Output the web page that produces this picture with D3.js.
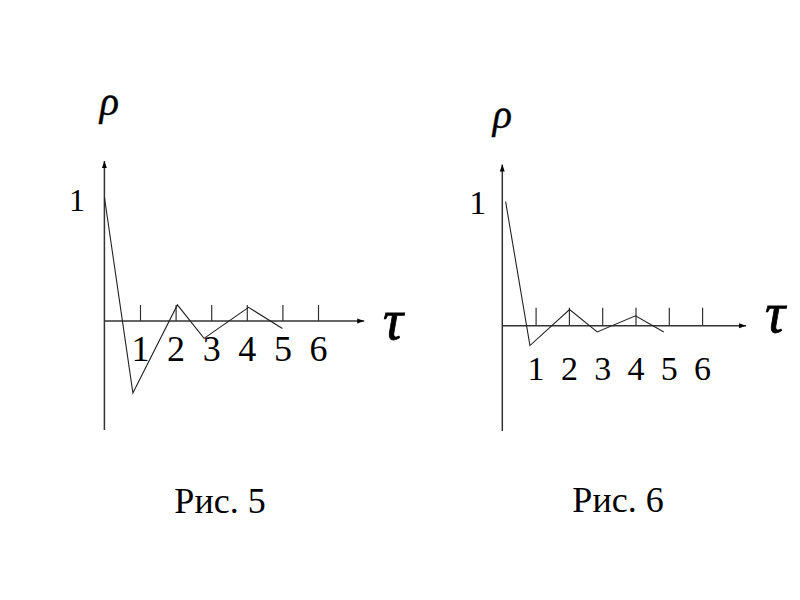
<!DOCTYPE html>
<html>
<head>
<meta charset="utf-8">
<script src="https://cdn.jsdelivr.net/npm/d3@7"></script>
<style>
  body { margin: 0; background: #fff; }
  svg { display: block; }
  text { font-family: "Liberation Serif", "Times New Roman", serif; fill: #000; }
</style>
</head>
<body>
<div id="chart"></div>
<script>
// lag values (tau) and autocorrelation (rho)
const tickLabels = [1, 2, 3, 4, 5, 6];

const tau5 = [0, 0.8, 2.05, 2.8, 4.05, 5];
const rho5 = [1, -0.58, 0.13, -0.14, 0.11, -0.06];

const tau6 = [0.1, 0.83, 2.02, 2.85, 4.0, 4.85];
const rho6 = [1, -0.16, 0.13, -0.05, 0.08, -0.05];

const captions = ['Рис. 5', 'Рис. 6'];

const width = 800, height = 600;

const svg = d3.select('#chart').append('svg')
  .attr('width', width)
  .attr('height', height);

svg.append('defs').append('marker')
  .attr('id', 'arrow')
  .attr('viewBox', '0 0 10 10')
  .attr('refX', 10)
  .attr('refY', 5)
  .attr('markerWidth', 7)
  .attr('markerHeight', 7)
  .attr('markerUnits', 'userSpaceOnUse')
  .attr('orient', 'auto')
  .append('path')
  .attr('d', 'M0,1.5 L10,5 L0,8.5 Z')
  .attr('fill', '#000');

const panels = [
  {
    tau: tau5, rho: rho5, caption: captions[0],
    x0: 104.4, unitX: 35.6, y0: 321, unitY: 124,
    xMax: 7.3, yMin: -0.88, yMax: 1.29,
    tickH: 16, labelFont: 36, labelPad: 14,
    oneFont: 32, onePad: 19.5, oneDy: 14,
    rhoDx: 5, rhoY: 115,
    tauX: 393, tauY: 339,
    capX: 220, capY: 513
  },
  {
    tau: tau6, rho: rho6, caption: captions[1],
    x0: 502.3, unitX: 33.3, y0: 325.7, unitY: 124,
    xMax: 7.32, yMin: -0.85, yMax: 1.3,
    tickH: 18, labelFont: 34, labelPad: 30,
    oneFont: 34, onePad: 16, oneDy: 12,
    rhoDx: 0, rhoY: 128,
    tauX: 775, tauY: 332,
    capX: 618, capY: 512
  }
];

panels.forEach(p => {
  const x = d3.scaleLinear()
    .domain([0, 1])
    .range([p.x0, p.x0 + p.unitX]);
  const y = d3.scaleLinear()
    .domain([0, 1])
    .range([p.y0, p.y0 - p.unitY]);

  const g = svg.append('g');

  // ticks above the tau axis, labels well below it
  g.append('g')
    .attr('transform', `translate(0,${y(0)})`)
    .call(d3.axisBottom(x)
      .tickValues(tickLabels)
      .tickFormat(d3.format('d'))
      .tickSizeInner(-p.tickH)
      .tickSizeOuter(0)
      .tickPadding(p.labelPad))
    .call(a => a.select('.domain').remove())
    .call(a => a.selectAll('.tick line').attr('stroke', '#333').attr('stroke-width', 1.2))
    .call(a => a.selectAll('.tick text')
      .attr('font-size', p.labelFont)
      .attr('fill', '#000'));

  // axes with arrows
  g.append('line')
    .attr('x1', x(0)).attr('x2', x(p.xMax))
    .attr('y1', y(0)).attr('y2', y(0))
    .attr('stroke', '#333').attr('stroke-width', 1.5)
    .attr('marker-end', 'url(#arrow)');

  g.append('line')
    .attr('x1', x(0)).attr('x2', x(0))
    .attr('y1', y(p.yMin)).attr('y2', y(p.yMax))
    .attr('stroke', '#333').attr('stroke-width', 1.5)
    .attr('marker-end', 'url(#arrow)');

  // correlogram line
  const line = d3.line()
    .x(d => x(d[0]))
    .y(d => y(d[1]));

  g.append('path')
    .datum(d3.zip(p.tau, p.rho))
    .attr('fill', 'none')
    .attr('stroke', '#222')
    .attr('stroke-width', 1.1)
    .attr('d', line);

  // "1" on the rho axis
  g.append('text')
    .attr('x', x(0) - p.onePad)
    .attr('y', y(1) + p.oneDy)
    .attr('text-anchor', 'end')
    .attr('font-size', p.oneFont)
    .text('1');

  // axis names
  g.append('text')
    .attr('x', x(0) + p.rhoDx)
    .attr('y', p.rhoY)
    .attr('text-anchor', 'middle')
    .attr('font-size', 40)
    .attr('font-style', 'italic')
    .attr('stroke', '#000')
    .attr('stroke-width', 0.4)
    .text('ρ');

  g.append('text')
    .attr('x', p.tauX)
    .attr('y', p.tauY)
    .attr('text-anchor', 'middle')
    .attr('font-size', 56)
    .attr('font-style', 'italic')
    .attr('stroke', '#000')
    .attr('stroke-width', 0.8)
    .text('τ');

  g.append('text')
    .attr('x', p.capX)
    .attr('y', p.capY)
    .attr('text-anchor', 'middle')
    .attr('font-size', 36)
    .text(p.caption);
});
</script>
</body>
</html>
